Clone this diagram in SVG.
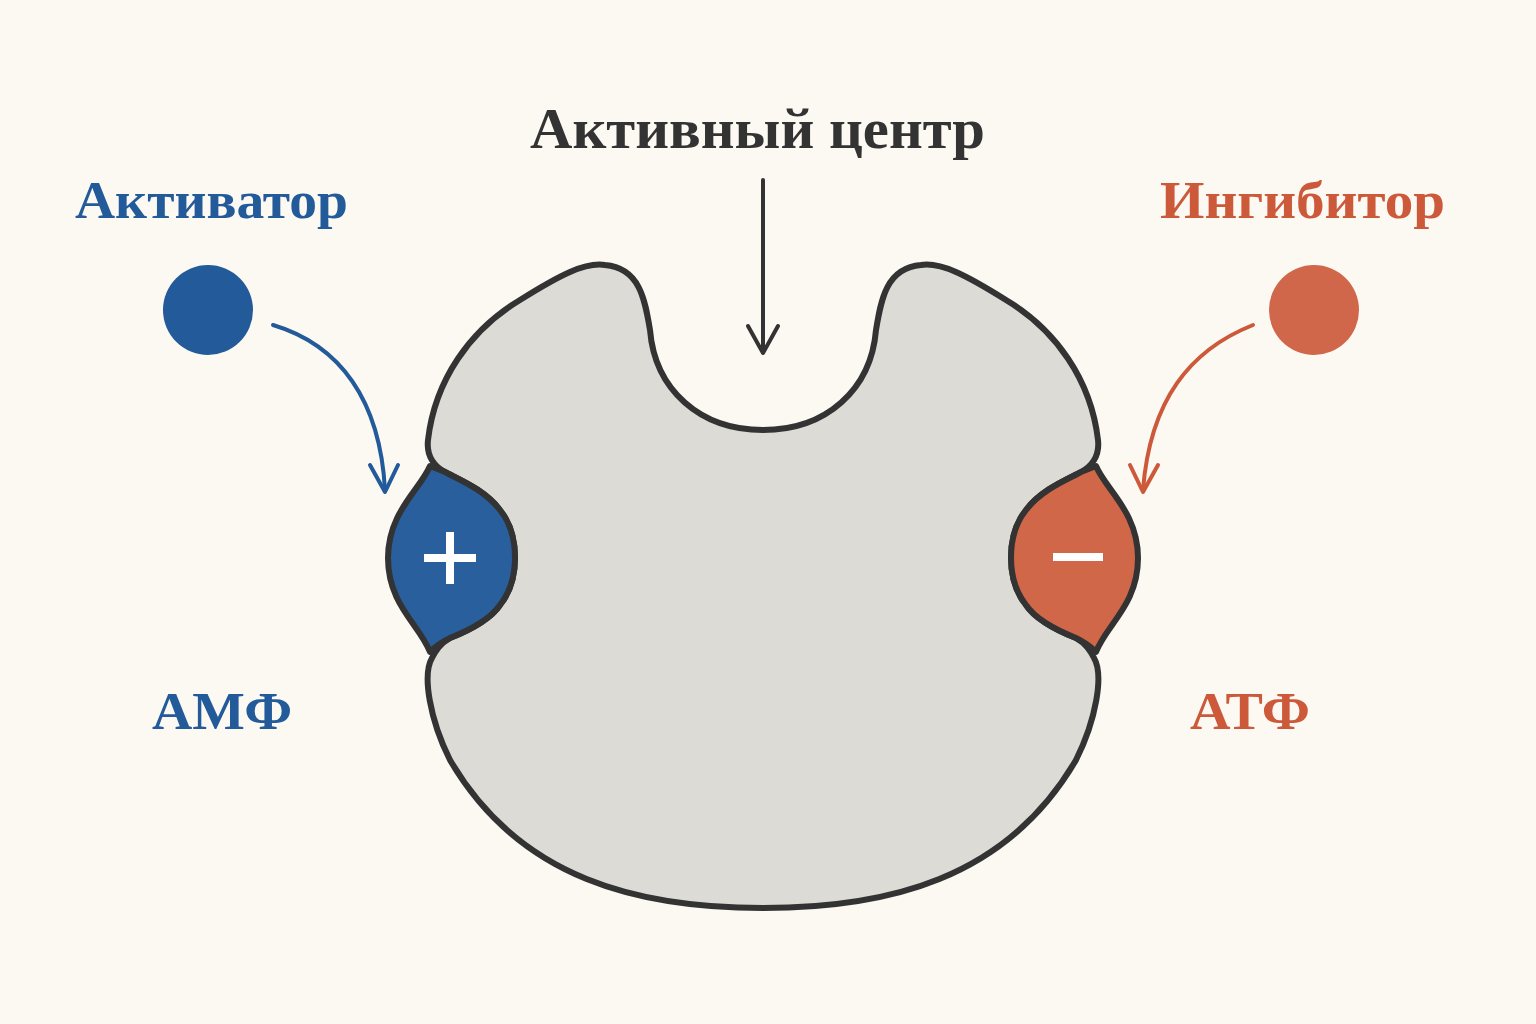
<svg xmlns="http://www.w3.org/2000/svg" width="1536" height="1024" viewBox="0 0 1536 1024">
<style>
.t{font-family:"Liberation Serif","DejaVu Serif",serif;font-weight:bold}
.ol{stroke:#333;stroke-width:6;stroke-linejoin:round}
</style>
<rect width="1536" height="1024" fill="#fcf8f2"/>
<g id="enzyme">
<path class="ol" fill="#dddbd6" d="M763,908 C640,908 520,880 450,760 C430,720 422,675 432,658 C436,650 440,644 450,638 C470,630 490,620 500,605 C520,580 520,535 500,510 C485,490 460,480 445,472 C436,467 426,458 428,440 C435,380 470,330 520,300 C560,275 585,262 605,265 C640,268 645,300 650,330 C655,390 700,430 763,430 C826,430 871,390 876,330 C881,300 886,268 921,265 C941,262 966,275 1006,300 C1056,330 1091,380 1098,440 C1100,458 1090,467 1081,472 C1066,480 1041,490 1026,510 C1006,535 1006,580 1026,605 C1036,620 1056,630 1076,638 C1086,644 1090,650 1094,658 C1104,675 1096,720 1076,760 C1006,880 886,908 763,908 Z"/>
</g>
<g id="site-plus">
<path class="ol" fill="#2a5f9e" d="M445,472 C460,480 485,490 500,510 C520,535 520,580 500,605 C490,620 470,630 450,638 C438,644 432,650 430,652 C420,625 388,605 388,558 C388,512 420,490 430,466 C435,468 440,470 445,472 Z"/>
<path d="M450,532 V584 M424,558 H476" stroke="#fff" stroke-width="8"/>
</g>
<g id="site-minus">
<path class="ol" fill="#cf6748" transform="translate(1526,0) scale(-1,1)" d="M445,472 C460,480 485,490 500,510 C520,535 520,580 500,605 C490,620 470,630 450,638 C438,644 432,650 430,652 C420,625 388,605 388,558 C388,512 420,490 430,466 C435,468 440,470 445,472 Z"/>
<path d="M1053,557 H1103" stroke="#fff" stroke-width="8"/>
</g>
<g id="activator"><circle cx="208" cy="310" r="45" fill="#225a9a"/>
<text class="t" x="75" y="218" font-size="52" fill="#225a9a" textLength="273" lengthAdjust="spacingAndGlyphs">Активатор</text>
<text class="t" x="152" y="729" font-size="52" fill="#225a9a" textLength="140" lengthAdjust="spacingAndGlyphs">АМФ</text></g>
<g id="inhibitor"><circle cx="1314" cy="310" r="45" fill="#d0674a"/>
<text class="t" x="1160" y="218" font-size="52" fill="#cc5a3a" textLength="285" lengthAdjust="spacingAndGlyphs">Ингибитор</text>
<text class="t" x="1190" y="729" font-size="52" fill="#cc5a3a" textLength="120" lengthAdjust="spacingAndGlyphs">АТФ</text></g>
<g id="label-center"><text class="t" x="530" y="148" font-size="56" fill="#333" textLength="455" lengthAdjust="spacingAndGlyphs">Активный центр</text></g>
<g id="connectors" fill="none" stroke-width="4" stroke-linecap="round" stroke-linejoin="round">
<path d="M273,325 C340,345 380,400 385,490" stroke="#225a9a"/>
<path d="M370,465 L385,492 L398,465" stroke="#225a9a"/>
<path d="M1253,325 C1190,350 1150,400 1143,490" stroke="#cc5a3a"/>
<path d="M1130,465 L1143,492 L1158,465" stroke="#cc5a3a"/>
<path d="M763,180 V352" stroke="#333"/>
<path d="M748,326 L763,353 L778,326" stroke="#333"/>
</g>
</svg>
